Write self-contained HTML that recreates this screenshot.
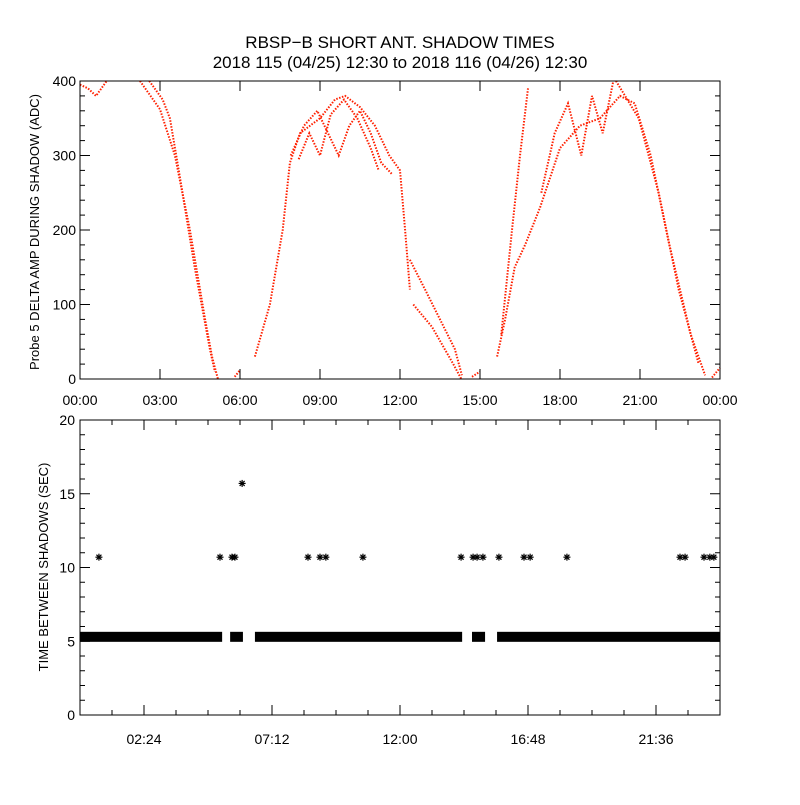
<!DOCTYPE html>
<html><head><meta charset="utf-8"><style>
html,body{margin:0;padding:0;background:#fff;}
svg text{font-family:"Liberation Sans",sans-serif;fill:#000;}
</style></head><body>
<svg id="chart" width="800" height="800" viewBox="0 0 800 800" xmlns="http://www.w3.org/2000/svg">
<rect width="800" height="800" fill="#fff"/>
<text x="400" y="48" font-size="17" text-anchor="middle">RBSP−B SHORT ANT. SHADOW TIMES</text>
<text x="400" y="68" font-size="17" text-anchor="middle">2018 115 (04/25) 12:30 to 2018 116 (04/26) 12:30</text>
<text transform="translate(39,232) rotate(-90)" font-size="13" text-anchor="middle">Probe 5 DELTA AMP DURING SHADOW (ADC)</text>
<text transform="translate(48,567) rotate(-90)" font-size="13" text-anchor="middle">TIME BETWEEN SHADOWS (SEC)</text>
<g id="topPanel"></g>
<g id="botPanel"></g>
</svg>
<script>
// ---- Top panel data (hours, ADC) ----
const traceA = [[2.25,400],[3.0,362],[3.56,300],[4.12,200],[4.69,80],[4.95,30],[5.17,0]];
const traceB = [[2.6,400],[3.1,375],[3.37,350],[3.75,270],[4.3,150],[4.87,40],[5.06,10]];
const traceC = [[0.0,395],[0.3,390],[0.6,380],[1.0,400]];
const traceD = [[5.8,3],[6.0,12]];
const traceE = [[6.56,30],[7.12,100],[7.6,200],[7.87,290],[8.25,330],[9.0,350],[9.56,375],[9.94,380],[10.5,365],[11.06,340],[11.6,300],[12.0,280],[12.19,200],[12.37,120]];
const traceF = [[7.9,300],[8.4,340],[8.9,360],[9.3,330],[9.7,300],[10.1,340],[10.5,360],[10.9,330],[11.3,290],[11.7,275]];
const traceG = [[8.2,295],[8.6,330],[9.0,300],[9.4,355],[9.9,375],[10.4,350],[10.9,310],[11.2,280]];
const traceH = [[12.37,160],[12.94,120],[13.5,80],[14.06,40],[14.32,5]];
const traceI = [[12.5,100],[13.2,70],[14.0,20],[14.3,0]];
const traceJ = [[14.7,3],[15.0,10]];
const traceK = [[15.64,30],[15.94,80],[16.3,150],[16.69,180],[17.25,230],[18.0,310],[18.75,340],[19.5,350],[20.25,380],[20.8,370],[21.4,300],[22.1,180],[22.9,60],[23.44,5]];
const traceL = [[20.1,400],[20.95,350],[21.7,250],[22.45,120],[23.2,20]];
const traceM = [[15.8,60],[16.2,200],[16.5,300],[16.8,390]];
const traceN = [[17.3,250],[17.8,330],[18.3,370],[18.8,300],[19.2,380],[19.6,330],[20.0,400]];
const traceO = [[23.7,2],[24.0,15]];
const traces = [traceA,traceB,traceC,traceD,traceE,traceF,traceG,traceH,traceI,traceJ,traceK,traceL,traceM,traceN,traceO];
const topXTicks = ["00:00","03:00","06:00","09:00","12:00","15:00","18:00","21:00","00:00"];
const topYTicks = [0,100,200,300,400];
// ---- Bottom panel data ----
const bandValue = 5.3;
const bandSegments = [[0,5.33],[5.63,6.11],[6.56,14.33],[14.7,15.19],[15.64,24]];
const outlierHours = [0.71,5.25,5.7,5.81,8.55,9.0,9.22,10.61,14.29,14.74,14.89,15.11,15.71,16.65,16.88,18.26,22.5,22.69,23.4,23.62,23.77,6.08];
const outlierValues = [10.7,10.7,10.7,10.7,10.7,10.7,10.7,10.7,10.7,10.7,10.7,10.7,10.7,10.7,10.7,10.7,10.7,10.7,10.7,10.7,10.7,15.7];
const botXTickHours = [2.4,7.2,12,16.8,21.6];
const botXTickLabels = ["02:24","07:12","12:00","16:48","21:36"];
const botYTicks = [0,5,10,15,20];

const NS="http://www.w3.org/2000/svg";
function mk(parent,tag,attrs){const e=document.createElementNS(NS,tag);for(const k in attrs)e.setAttribute(k,attrs[k]);parent.appendChild(e);return e;}
const L=80,R=720;
const xH=h=>L+(R-L)*h/24;
const yT=v=>379-(379-81)*v/400;
const yB=v=>715-(715-420)*v/20;
const topG=document.getElementById('topPanel'), botG=document.getElementById('botPanel');

traces.forEach(t=>{
  const p=mk(topG,'polyline',{points:t.map(d=>xH(d[0]).toFixed(1)+','+yT(d[1]).toFixed(1)).join(' '),fill:'none',stroke:'#ff2000','stroke-width':2,'stroke-dasharray':'1.5 1.5'});
  
  
});
let f=mk(topG,'rect',{x:L,y:81,width:R-L,height:298,fill:'none',stroke:'#000','stroke-width':1});


for(let h=0;h<=24;h+=3){
  mk(topG,'line',{x1:xH(h),x2:xH(h),y1:379,y2:369,stroke:'#000'});
  mk(topG,'line',{x1:xH(h),x2:xH(h),y1:81,y2:91,stroke:'#000'});
}
topXTicks.forEach((s,i)=>{const t=mk(topG,'text',{x:xH(i*3),y:405,'font-size':14,'text-anchor':'middle'});t.textContent=s;

});
for(let v=0;v<=400;v+=20){const len=v%100===0?10:5;
  mk(topG,'line',{x1:L,x2:L+len,y1:yT(v),y2:yT(v),stroke:'#000'});
  mk(topG,'line',{x1:R,x2:R-len,y1:yT(v),y2:yT(v),stroke:'#000'});}
topYTicks.forEach(v=>{const t=mk(topG,'text',{x:L-4,y:yT(v)+5,'font-size':14,'text-anchor':'end'});t.textContent=v;

});

bandSegments.forEach(s=>{
  const r=mk(botG,'rect',{x:xH(s[0]),y:yB(bandValue)-5,width:xH(s[1])-xH(s[0]),height:10,fill:'#000'});
  
  
});
outlierHours.forEach((h,i)=>{
  const cx=xH(h),cy=yB(outlierValues[i]);
  const g=mk(botG,'g',{stroke:'#000','stroke-width':1.2});
  
  
  mk(g,'line',{x1:cx-3.5,x2:cx+3.5,y1:cy,y2:cy});
  mk(g,'line',{x1:cx,x2:cx,y1:cy-3.5,y2:cy+3.5});
  mk(g,'line',{x1:cx-2.5,x2:cx+2.5,y1:cy-2.5,y2:cy+2.5});
  mk(g,'line',{x1:cx-2.5,x2:cx+2.5,y1:cy+2.5,y2:cy-2.5});
});
f=mk(botG,'rect',{x:L,y:420,width:R-L,height:295,fill:'none',stroke:'#000','stroke-width':1});


for(let k=0;k<=20;k++){const h=k*1.2;const len=k%4===2?10:5;
  mk(botG,'line',{x1:xH(h),x2:xH(h),y1:715,y2:715-len,stroke:'#000'});
  mk(botG,'line',{x1:xH(h),x2:xH(h),y1:420,y2:420+len,stroke:'#000'});}
botXTickHours.forEach((h,i)=>{const t=mk(botG,'text',{x:xH(h),y:744,'font-size':14,'text-anchor':'middle'});t.textContent=botXTickLabels[i];

});
for(let v=0;v<=20;v++){const len=v%5===0?10:5;
  mk(botG,'line',{x1:L,x2:L+len,y1:yB(v),y2:yB(v),stroke:'#000'});
  mk(botG,'line',{x1:R,x2:R-len,y1:yB(v),y2:yB(v),stroke:'#000'});}
botYTicks.forEach(v=>{const t=mk(botG,'text',{x:L-5,y:yB(v)+5,'font-size':14,'text-anchor':'end'});t.textContent=v;

});
</script>
</body></html>
